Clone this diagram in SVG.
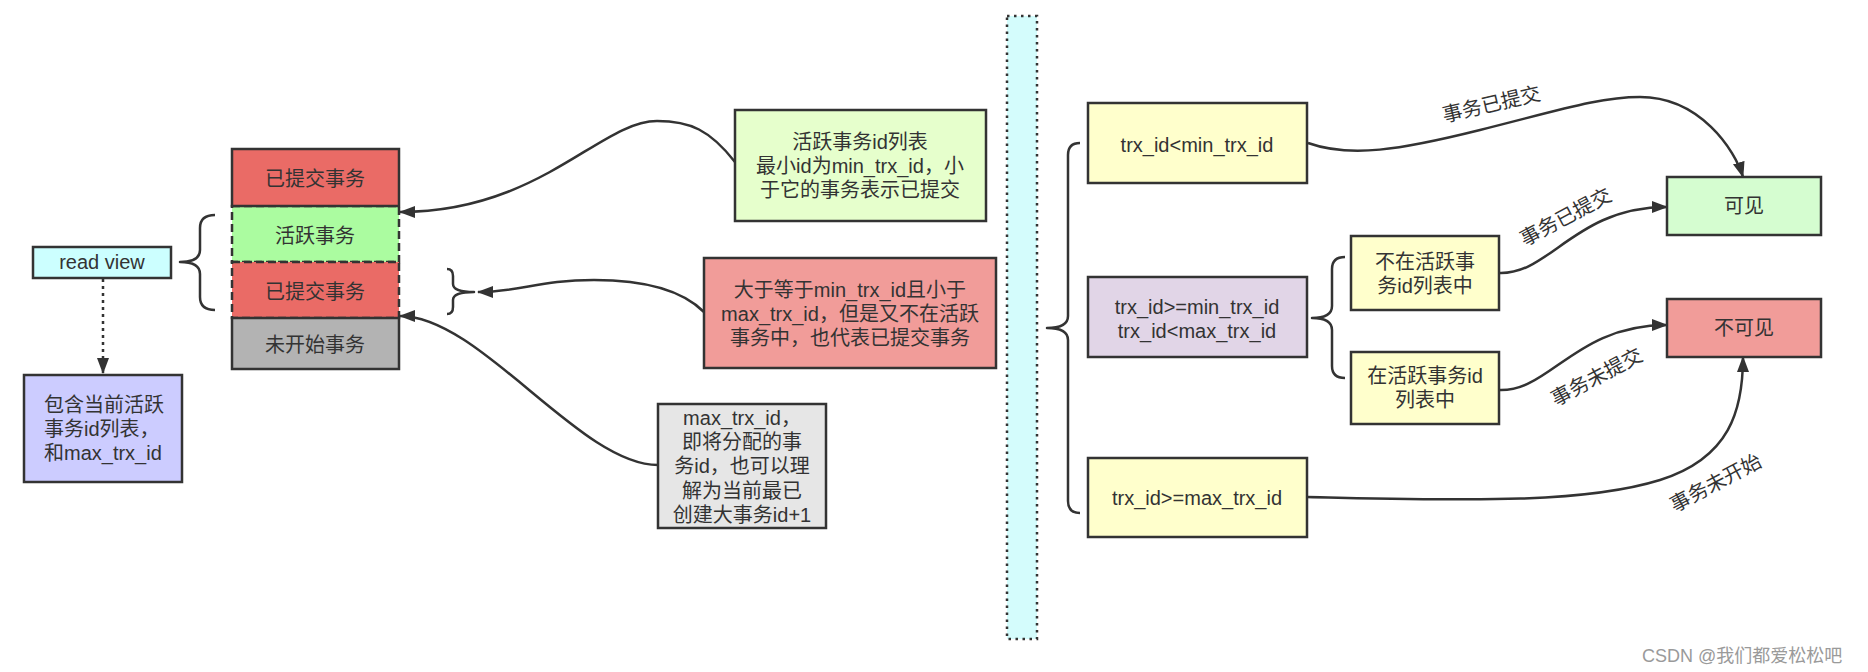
<svg xmlns="http://www.w3.org/2000/svg" width="1868" height="672" viewBox="0 0 1868 672">
<defs>
<style>
text{font-family:"Liberation Sans","Noto Sans CJK SC",sans-serif;font-size:20px;fill:#333;}
.c{text-anchor:middle;}
.box{stroke:#333;stroke-width:2.5;}
.dash{stroke:#333;stroke-width:2.5;stroke-dasharray:8 4;}
.edge{fill:none;stroke:#333;stroke-width:2.5;}
.brace{fill:none;stroke:#333;stroke-width:2.5;stroke-linejoin:round;}
</style>
<marker id="arr" viewBox="0 0 16 12" refX="15" refY="6" markerWidth="16" markerHeight="12" markerUnits="userSpaceOnUse" orient="auto">
<path d="M0,0 L16,6 L0,12 Z" fill="#333"/>
</marker>
</defs>
<rect width="1868" height="672" fill="#ffffff"/>

<g id="read-view"><rect class="box" x="33" y="247" width="138" height="31" fill="#ccffff"/><text class="c" x="102" y="269">read view</text></g>
<g id="read-view-desc"><rect class="box" x="24" y="375" width="158" height="107" fill="#ccccff"/>
<text x="44" y="412">包含当前活跃</text><text x="44" y="436">事务id列表，</text><text x="44" y="460">和max_trx_id</text></g>

<g id="stack-active"><rect class="dash" x="232" y="206" width="167" height="56" fill="#abfca0"/><text class="c" x="315" y="243">活跃事务</text></g>
<g id="stack-committed2"><rect class="dash" x="232" y="262" width="167" height="56" fill="#ea6b66"/><text class="c" x="315" y="299">已提交事务</text></g>
<g id="stack-committed1"><rect class="box" x="232" y="149" width="167" height="57" fill="#ea6b66"/><text class="c" x="315" y="186">已提交事务</text></g>
<g id="stack-notstarted"><rect class="box" x="232" y="318" width="167" height="51" fill="#b3b3b3"/><text class="c" x="315" y="352">未开始事务</text></g>

<g id="note-active"><rect class="box" x="735" y="110" width="251" height="111" fill="#e6ffcc"/>
<text class="c" x="860" y="149">活跃事务id列表</text><text class="c" x="860" y="173">最小id为min_trx_id，小</text><text class="c" x="860" y="197">于它的事务表示已提交</text></g>
<g id="note-middle"><rect class="box" x="704" y="258" width="292" height="110" fill="#f19c99"/>
<text class="c" x="850" y="297">大于等于min_trx_id且小于</text><text class="c" x="850" y="321">max_trx_id，但是又不在活跃</text><text class="c" x="850" y="345">事务中，也代表已提交事务</text></g>
<g id="note-max"><rect class="box" x="658" y="404" width="168" height="124" fill="#e6e6e6"/>
<text class="c" x="742" y="425">max_trx_id，</text><text class="c" x="742" y="449">即将分配的事</text><text class="c" x="742" y="473">务id，也可以理</text><text class="c" x="742" y="498">解为当前最已</text><text class="c" x="742" y="522">创建大事务id+1</text></g>

<g id="divider"><rect x="1007" y="16" width="30" height="623" fill="#d4fcfc" stroke="#333" stroke-width="2.5" stroke-dasharray="2.5 4.5"/></g>

<g id="cond-lt-min"><rect class="box" x="1088" y="103" width="219" height="80" fill="#ffffcc"/><text class="c" x="1197" y="152">trx_id&lt;min_trx_id</text></g>
<g id="cond-between"><rect class="box" x="1088" y="277" width="219" height="80" fill="#e1d5e7"/><text class="c" x="1197" y="314">trx_id&gt;=min_trx_id</text><text class="c" x="1197" y="338">trx_id&lt;max_trx_id</text></g>
<g id="cond-ge-max"><rect class="box" x="1088" y="458" width="219" height="79" fill="#ffffcc"/><text class="c" x="1197" y="505">trx_id&gt;=max_trx_id</text></g>
<g id="not-in-list"><rect class="box" x="1351" y="236" width="148" height="74" fill="#ffffcc"/><text class="c" x="1425" y="269">不在活跃事</text><text class="c" x="1425" y="293">务id列表中</text></g>
<g id="in-list"><rect class="box" x="1351" y="352" width="148" height="72" fill="#ffffcc"/><text class="c" x="1425" y="383">在活跃事务id</text><text class="c" x="1425" y="407">列表中</text></g>
<g id="visible"><rect class="box" x="1667" y="177" width="154" height="58" fill="#d5fdd0"/><text class="c" x="1744" y="213">可见</text></g>
<g id="invisible"><rect class="box" x="1667" y="299" width="154" height="58" fill="#f19c99"/><text class="c" x="1744" y="335">不可见</text></g>

<g id="connectors">
<path class="brace" d="M215,215 Q200,215 200,228 L200,250 Q200,262 180,262 Q200,262 200,274 L200,297 Q200,310 215,310"/>
<path class="brace" d="M447,269 Q453,269 453,276 L453,284 Q453,292 474,292 Q453,292 453,300 L453,307 Q453,314 447,314"/>
<path class="brace" d="M1080,143 Q1068,143 1068,155 L1068,316 Q1068,328 1047,328 Q1068,328 1068,340 L1068,501 Q1068,513 1080,513"/>
<path class="brace" d="M1345,257 Q1332,257 1332,269 L1332,306 Q1332,318 1312,318 Q1332,318 1332,330 L1332,366 Q1332,378 1345,378"/>
<path class="edge" d="M103,279 L103,373" stroke-dasharray="3 4" marker-end="url(#arr)"/>
<path class="edge" d="M735,162 C710,130 690,121 657,121 C600,121 540,212 400,212" marker-end="url(#arr)"/>
<path class="edge" d="M704,312 C680,288 640,280 594,280 C540,280 520,292 478,292" marker-end="url(#arr)"/>
<path class="edge" d="M658,465 C580,465 480,316 400,316" marker-end="url(#arr)"/>
<path class="edge" d="M1308,143 C1350,158 1400,150 1480,130 C1560,110 1600,97 1640,97 C1700,97 1735,150 1743,177" marker-end="url(#arr)"/>
<path class="edge" d="M1499,273 C1550,275 1575,207 1667,207" marker-end="url(#arr)"/>
<path class="edge" d="M1499,390 C1550,392 1575,325 1667,325" marker-end="url(#arr)"/>
<path class="edge" d="M1307,497 C1450,500 1580,505 1660,480 C1730,458 1743,410 1743,357" marker-end="url(#arr)"/>
<text class="c" transform="translate(1493,111) rotate(-13)">事务已提交</text>
<text class="c" transform="translate(1569,223) rotate(-28)">事务已提交</text>
<text class="c" transform="translate(1600,383) rotate(-28)">事务未提交</text>
<text class="c" transform="translate(1719,489) rotate(-28)">事务未开始</text>
</g>

<text x="1642" y="662" style="font-size:18px;fill:#9a9a9a">CSDN @我们都爱松松吧</text>
</svg>
